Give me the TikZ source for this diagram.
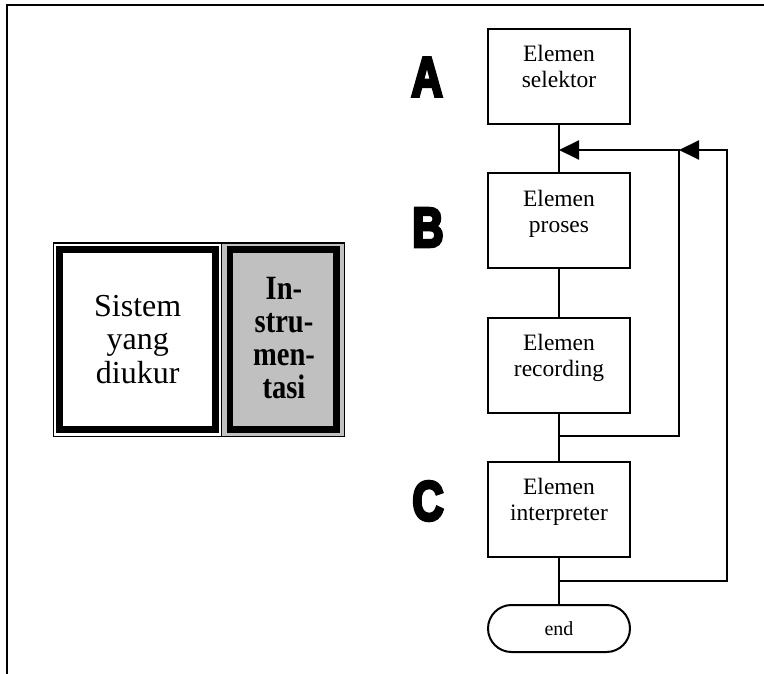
\documentclass[tikz,border=0pt]{standalone}
\usepackage{fontspec}
\setmainfont{Liberation Serif}
\newfontfamily\heavy[UprightFont={* Bold}, FakeBold=6]{Liberation Sans}
\usetikzlibrary{arrows.meta}
\definecolor{boxgray}{RGB}{192,192,192}
\tikzset{
  flowbox/.style={draw, line width=2pt, minimum width=142pt, minimum height=95pt, inner sep=0pt},
  flowtxt/.style={align=center, inner sep=0pt, anchor=north, font=\fontsize{23.5}{26}\selectfont},
  endbox/.style={draw, line width=2pt, minimum width=142pt, minimum height=47pt, rounded corners=23.5pt, inner sep=0pt, font=\fontsize{20}{24}\selectfont},
  conn/.style={line width=2pt},
  fb/.style={line width=2pt, -{Triangle[length=20pt,width=19pt]}},
  bigletter/.style={inner sep=0pt, font=\heavy\fontsize{55.5}{60}\selectfont},
  thickbox/.style={draw, line width=6.7pt, inner sep=0pt, align=center},
}
\begin{document}
\begin{tikzpicture}[x=1pt,y=-1pt]
\useasboundingbox (0,0) rectangle (764,674);
% page frame
\draw[line width=2pt] (7,674) -- (7,5) -- (764,5);

% left pair of boxes
\fill[boxgray] (221.8,243) rectangle (344.5,436.3);
\draw[line width=1.3pt] (53.3,243) rectangle (344.5,436.3);
\draw[line width=1.3pt] (221.8,243) -- (221.8,436.3);
\node[thickbox, minimum width=156pt, minimum height=180pt,
      font=\fontsize{32}{33.5}\selectfont] (sys) at (137.7,339.5) {Sistem\\yang\\diukur};
\node[thickbox, fill=boxgray, minimum width=106.5pt, minimum height=180pt] (ins) at (283.25,339.5) {};
\node[align=center, inner sep=0pt, font=\bfseries\fontsize{34}{33.3}\selectfont] (insT) at (284,338)
  {\scalebox{0.84}[1]{In-}\\\scalebox{0.84}[1]{stru-}\\\scalebox{0.84}[1]{men-}\\\scalebox{0.84}[1]{tasi}};

% letters
\node[bigletter] (la) at (427,77) {\scalebox{0.78}[1]{A}};
\node[bigletter] (lb) at (428,227.5) {\scalebox{0.78}[1]{B}};
\node[bigletter] (lc) at (428,501) {\scalebox{0.78}[1]{C}};

% flow boxes
\node[flowbox] (sel) at (559,76.5) {};
\node[flowbox] (pro) at (559,221) {};
\node[flowbox] (rec) at (559,365) {};
\node[flowbox] (int) at (559,509) {};
\node[endbox] (end) at (559,628.5) {end};

\node[flowtxt] (selT) at (559,44.7) {Elemen\\selektor};
\node[flowtxt] (proT) at (559,189.7) {Elemen\\proses};
\node[flowtxt] (recT) at (559,333.7) {Elemen\\recording};
\node[flowtxt] (intT) at (559,477.7) {Elemen\\interpreter};

% junction coordinates
\coordinate (m1) at (559,150);
\coordinate (m2) at (679,150);
\coordinate (r2) at (727,150);
\coordinate (j1) at (559,436);
\coordinate (j2) at (559,581);

% main line
\draw[conn] (sel.south) -- (pro.north);
\draw[conn] (pro.south) -- (rec.north);
\draw[conn] (rec.south) -- (int.north);
\draw[conn] (int.south) -- (end.north);

% feedback loops
\draw[fb] (j1) -| (m2) -- (m1);
\draw[fb] (j2) -| (r2) -- (m2);
\end{tikzpicture}
\end{document}
